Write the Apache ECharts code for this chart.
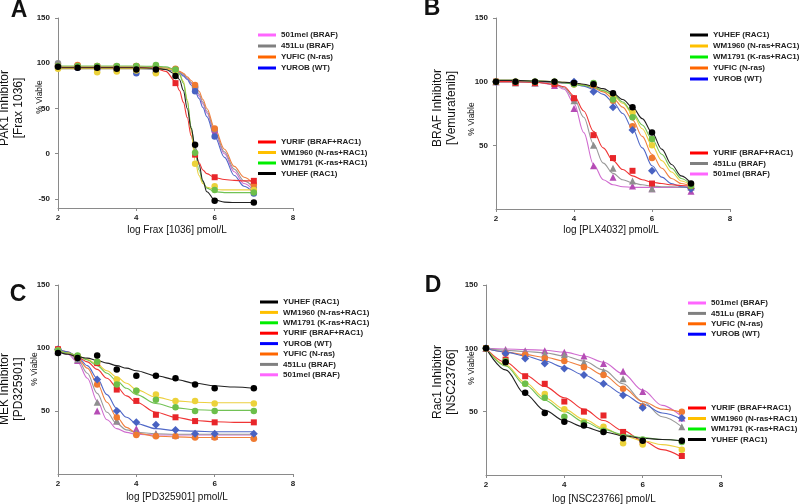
<!DOCTYPE html>
<html><head><meta charset="utf-8">
<script src="https://cdn.jsdelivr.net/npm/echarts@6/dist/echarts.min.js"></script>
<style>html,body{margin:0;padding:0;background:#fff}#c{width:800px;height:504px}</style>
</head><body><div id="c"></div>
<script>
// ---------- shared ----------
const doseX = [2, 2.5, 3, 3.5, 4, 4.5, 5, 5.5, 6, 7];
const xTickLabels = [2, 4, 6, 8];
const yTicksA = [-50, 0, 50, 100, 150];
const yTicksBCD = [50, 100, 150];
const cellLines = ['501mel (BRAF)', '451Lu (BRAF)', 'YUFIC (N-ras)', 'YUROB (WT)',
  'YURIF (BRAF+RAC1)', 'WM1960 (N-ras+RAC1)', 'WM1791 (K-ras+RAC1)', 'YUHEF (RAC1)'];

// ---------- Panel A : PAK1 inhibitor (Frax 1036) ----------
const A_pts_501mel = [97, 97, 96, 95, 95, 95, 93, 73, 25, -40];
const A_pts_451Lu  = [100, 96, 95, 94, 94, 94, 93, 74, 27, -38];
const A_pts_YUFIC  = [97, 98, 97, 96, 97, 97, 94, 76, 28, -34];
const A_pts_YUROB  = [95, 95, 93, 92, 89, 90, 92, 69, 19, -44];
const A_pts_YURIF  = [96, 96, 96, 96, 96, 95, 78, -1, -26, -30];
const A_pts_WM1960 = [94, 96, 90, 91, 92, 89, 92, -11, -36, -40];
const A_pts_WM1791 = [97, 97, 97, 97, 97, 98, 93, 1, -40, -43];
const A_pts_YUHEF  = [96, 95, 95, 94, 93, 93, 86, 10, -52, -54];
const A_fitX = [2, 3, 4, 4.5, 4.75, 5, 5.1, 5.2, 5.3, 5.4, 5.5, 5.6, 5.7, 5.8, 6, 6.25, 6.5, 6.75, 7];
const A_fit_501mel = [95, 95, 95, 94.5, 94, 92, 90, 87, 83, 78, 72, 64, 55, 45, 23, 0, -20, -33, -41];
const A_fit_451Lu  = [95, 95, 95, 94.5, 94, 92, 90, 88, 84, 79, 74, 66, 57, 47, 25, 2, -17, -30, -38];
const A_fit_YUFIC  = [96, 96, 96, 95.5, 95, 93, 91, 89, 85, 81, 76, 69, 60, 50, 28, 5, -14, -26, -34];
const A_fit_YUROB  = [94, 94, 94, 93.5, 93, 91, 89, 86, 82, 76, 69, 61, 51, 41, 19, -4, -24, -36, -44];
const A_fit_YURIF  = [95, 95, 95, 94, 91, 80, 70, 57, 40, 20, 2, -10, -18, -22, -26.5, -28.5, -29.5, -30, -30];
const A_fit_WM1960 = [94, 94, 94, 94, 93.5, 92, 88, 80, 60, 25, -8, -24, -33, -37, -39.5, -40, -40, -40, -40];
const A_fit_WM1791 = [97, 97, 97, 96.5, 96, 93, 88, 78, 58, 30, 2, -18, -31, -38, -42, -43, -43, -43, -43];
const A_fit_YUHEF  = [95, 95, 95, 94.5, 93, 88, 82, 70, 50, 28, 8, -12, -30, -42, -51, -53.5, -54, -54, -54];

// ---------- Panel B : BRAF inhibitor (Vemurafenib) ----------
const B_pts_501mel = [100, 100, 99, 97, 79, 34, 25, 18, 16, 14];
const B_pts_451Lu  = [100, 99, 99, 99, 85, 50, 32, 22, 16, 17];
const B_pts_YUFIC  = [100, 100, 99, 99, 98, 97, 85, 65, 40, 17];
const B_pts_YUROB  = [100, 100, 100, 100, 100, 92, 80, 62, 30, 16];
const B_pts_YURIF  = [100, 99, 99, 98, 87, 58, 40, 30, 20, 18];
const B_pts_WM1960 = [100, 100, 100, 100, 98, 98, 88, 76, 50, 19];
const B_pts_WM1791 = [100, 100, 100, 100, 98, 99, 86, 72, 55, 18];
const B_pts_YUHEF  = [100, 100, 100, 100, 99, 98, 91, 80, 60, 20];
const B_fitX = [2, 2.5, 3, 3.5, 3.75, 4, 4.25, 4.5, 4.75, 5, 5.25, 5.5, 5.75, 6, 6.25, 6.5, 6.75, 7];
const B_fit_501mel = [100, 100, 99.5, 97.5, 94, 83, 60, 35, 23, 19, 17.5, 17, 17, 17, 17, 17, 17, 17];
const B_fit_451Lu  = [100, 100, 99.5, 98, 95, 87, 72, 51, 36, 28, 23, 20.5, 19, 18, 17.5, 17.5, 17, 17];
const B_fit_YUFIC  = [100, 100, 100, 99.5, 99, 98.5, 97, 95, 92, 87, 80, 70, 57, 43, 32, 24, 20, 18];
const B_fit_YUROB  = [100, 100, 100, 99.5, 99, 98, 96.5, 94, 90, 84, 75, 63, 48, 34, 25, 20, 17.5, 16.5];
const B_fit_YURIF  = [100, 100, 99.5, 98, 96, 89, 77, 61, 48, 38, 31, 26, 23, 21, 20, 19, 18.5, 18];
const B_fit_WM1960 = [101, 101, 100.5, 100, 99.5, 99, 97.5, 96, 93, 89, 83, 75, 63, 50, 38, 29, 22, 18.5];
const B_fit_WM1791 = [101, 101, 100.5, 100, 99, 98, 97, 95.5, 93, 90, 84, 76, 66, 55, 43, 32, 24, 19];
const B_fit_YUHEF  = [101, 101, 100.5, 100, 99.5, 99, 98, 96.5, 94.5, 91, 86, 80, 71, 60, 47, 35, 26, 20];

// ---------- Panel C : MEK inhibitor (PD325901) ----------
const C_pts_501mel = [98, 90, 50, 42, 36, 32, 31, 31, 30, 30];
const C_pts_451Lu  = [97, 91, 57, 42, 33, 32, 31, 31, 31, 31];
const C_pts_YUFIC  = [99, 92, 71, 45, 31, 30, 30, 29, 29, 28];
const C_pts_YUROB  = [99, 92, 75, 50, 41, 39, 35, 32, 32, 32];
const C_pts_YURIF  = [99, 93, 88, 67, 58, 47, 45, 42, 41, 41];
const C_pts_WM1960 = [98, 93, 89, 75, 66, 63, 58, 58, 56, 56];
const C_pts_WM1791 = [98, 94, 89, 71, 66, 59, 53, 50, 50, 50];
const C_pts_YUHEF  = [96, 92, 94, 83, 78, 78, 76, 71, 68, 68];
const C_fitX = [2, 2.25, 2.5, 2.75, 3, 3.25, 3.5, 3.75, 4, 4.5, 5, 5.5, 6, 6.5, 7];
const C_fit_501mel = [98, 95, 89, 76, 58, 43, 36, 33, 31.5, 31, 31, 31, 31, 31, 31];
const C_fit_451Lu  = [98, 96, 91, 80, 64, 49, 40, 35, 33, 32, 31.5, 31.5, 31.5, 31.5, 31.5];
const C_fit_YUFIC  = [99, 97, 92, 84, 72, 57, 45, 37, 32.5, 30, 29.5, 29, 29, 29, 29];
const C_fit_YUROB  = [99, 97, 93, 86, 76, 63, 52, 45, 40, 36, 34.5, 34, 33.5, 33.5, 33.5];
const C_fit_YURIF  = [98, 96, 93, 89, 83, 76, 69, 62, 57, 49, 45, 42.5, 41.5, 41, 41];
const C_fit_WM1960 = [98, 96, 94, 91, 87, 82, 77, 72, 67, 61, 58, 57, 56.5, 56.5, 56.5];
const C_fit_WM1791 = [98, 96, 94, 90.5, 86, 80, 74, 68, 63, 56, 52.5, 51, 50.5, 50.5, 50.5];
const C_fit_YUHEF  = [97, 95, 93, 92, 90, 88, 86, 84, 82, 78, 75, 72, 70, 69, 68];

// ---------- Panel D : Rac1 inhibitor (NSC23766) ----------
const D_pts_501mel = [100, 99, 98, 98, 97, 94, 88, 82, 66, 45];
const D_pts_451Lu  = [100, 98, 97, 96, 95, 89, 82, 76, 55, 38];
const D_pts_YUFIC  = [100, 96, 95, 92, 90, 85, 79, 68, 54, 50];
const D_pts_YUROB  = [100, 96, 92, 88, 84, 79, 72, 63, 53, 45];
const D_pts_YURIF  = [100, 91, 78, 72, 58, 50, 47, 34, 26, 15];
const D_pts_WM1960 = [100, 89, 72, 64, 52, 42, 38, 25, 24, 20];
const D_pts_WM1791 = [100, 90, 72, 61, 46, 41, 35, 30, 28, 26];
const D_pts_YUHEF  = [100, 89, 65, 49, 42, 39, 34, 29, 27, 27];
const D_fitX = [2, 2.5, 3, 3.5, 4, 4.5, 5, 5.5, 6, 6.5, 7];
const D_fit_501mel = [100, 99.5, 99, 98.5, 97, 94, 89, 80, 67, 55, 46];
const D_fit_451Lu  = [100, 98.5, 97.5, 96.5, 94, 90, 83, 72, 58, 46, 38];
const D_fit_YUFIC  = [100, 97, 95, 93, 90, 86, 79, 69, 58, 52, 49.5];
const D_fit_YUROB  = [100, 97, 94, 90, 85, 79, 72, 64, 56, 49, 44];
const D_fit_YURIF  = [100, 89, 79, 70, 61, 52, 43, 35, 27, 20, 14];
const D_fit_WM1960 = [100, 87, 73, 61, 52, 44, 37, 31, 27, 24, 21];
const D_fit_WM1791 = [100, 86, 71, 59, 50, 42, 36, 32, 29.5, 28, 27];
const D_fit_YUHEF  = [100, 83, 64, 51, 43, 38, 34, 31, 29, 28, 27];

// legend groups (order as printed)
const A_legend1 = ['501mel (BRAF)', '451Lu (BRAF)', 'YUFIC (N-ras)', 'YUROB (WT)'];
const A_legend2 = ['YURIF (BRAF+RAC1)', 'WM1960 (N-ras+RAC1)', 'WM1791 (K-ras+RAC1)', 'YUHEF (RAC1)'];
const B_legend1 = ['YUHEF (RAC1)', 'WM1960 (N-ras+RAC1)', 'WM1791 (K-ras+RAC1)', 'YUFIC (N-ras)', 'YUROB (WT)'];
const B_legend2 = ['YURIF (BRAF+RAC1)', '451Lu (BRAF)', '501mel (BRAF)'];
const C_legend1 = ['YUHEF (RAC1)', 'WM1960 (N-ras+RAC1)', 'WM1791 (K-ras+RAC1)', 'YURIF (BRAF+RAC1)', 'YUROB (WT)', 'YUFIC (N-ras)', '451Lu (BRAF)', '501mel (BRAF)'];
const D_legend1 = ['501mel (BRAF)', '451Lu (BRAF)', 'YUFIC (N-ras)', 'YUROB (WT)'];
const D_legend2 = ['YURIF (BRAF+RAC1)', 'WM1960 (N-ras+RAC1)', 'WM1791 (K-ras+RAC1)', 'YUHEF (RAC1)'];

// ---------- styles ----------
const keyOf = {'501mel (BRAF)':'501mel','451Lu (BRAF)':'451Lu','YUFIC (N-ras)':'YUFIC','YUROB (WT)':'YUROB',
  'YURIF (BRAF+RAC1)':'YURIF','WM1960 (N-ras+RAC1)':'WM1960','WM1791 (K-ras+RAC1)':'WM1791','YUHEF (RAC1)':'YUHEF'};
const legendColor = {'501mel':'#ff66ff','451Lu':'#808080','YUFIC':'#ff6600','YUROB':'#0000ff',
  'YURIF':'#ff0000','WM1960':'#ffc000','WM1791':'#00ee00','YUHEF':'#000000'};
const markColor = {'501mel':'#b54cb5','451Lu':'#8f8f8f','YUFIC':'#f07a30','YUROB':'#4862c2',
  'YURIF':'#e8262a','WM1960':'#ecd23a','WM1791':'#6cbf4a','YUHEF':'#000000'};
const lineColor = {'501mel':'#d06cd0','451Lu':'#999999','YUFIC':'#f08040','YUROB':'#5068c8',
  'YURIF':'#f03535','WM1960':'#ecd040','WM1791':'#72c255','YUHEF':'#222222'};
const symbolOf = {'501mel':'triangle','451Lu':'triangle','YUFIC':'circle','YUROB':'diamond',
  'YURIF':'rect','WM1960':'circle','WM1791':'circle','YUHEF':'circle'};
const symbolOfA = {'501mel':'circle','451Lu':'circle','YUFIC':'circle','YUROB':'circle',
  'YURIF':'rect','WM1960':'circle','WM1791':'circle','YUHEF':'circle'};
const symbolSize = {triangle:7, circle:6.5, diamond:8, rect:6};

const FONT = 'Liberation Sans, Arial, sans-serif';
const panels = [
  {id:'A', fitX:A_fitX, grid:{left:58, top:18, width:235, height:190}, yMin:-60, yTicks:yTicksA, sym:symbolOfA},
  {id:'B', fitX:B_fitX, grid:{left:496, top:18, width:234, height:191}, yMin:0, yTicks:yTicksBCD, sym:symbolOf},
  {id:'C', fitX:C_fitX, grid:{left:58, top:285, width:235, height:189}, yMin:0, yTicks:yTicksBCD, sym:symbolOf},
  {id:'D', fitX:D_fitX, grid:{left:486, top:285, width:235, height:190}, yMin:0, yTicks:yTicksBCD, sym:symbolOf}
];
const store = {
  A:{pts:[A_pts_501mel,A_pts_451Lu,A_pts_YUFIC,A_pts_YUROB,A_pts_YURIF,A_pts_WM1960,A_pts_WM1791,A_pts_YUHEF],
     fit:[A_fit_501mel,A_fit_451Lu,A_fit_YUFIC,A_fit_YUROB,A_fit_YURIF,A_fit_WM1960,A_fit_WM1791,A_fit_YUHEF]},
  B:{pts:[B_pts_501mel,B_pts_451Lu,B_pts_YUFIC,B_pts_YUROB,B_pts_YURIF,B_pts_WM1960,B_pts_WM1791,B_pts_YUHEF],
     fit:[B_fit_501mel,B_fit_451Lu,B_fit_YUFIC,B_fit_YUROB,B_fit_YURIF,B_fit_WM1960,B_fit_WM1791,B_fit_YUHEF]},
  C:{pts:[C_pts_501mel,C_pts_451Lu,C_pts_YUFIC,C_pts_YUROB,C_pts_YURIF,C_pts_WM1960,C_pts_WM1791,C_pts_YUHEF],
     fit:[C_fit_501mel,C_fit_451Lu,C_fit_YUFIC,C_fit_YUROB,C_fit_YURIF,C_fit_WM1960,C_fit_WM1791,C_fit_YUHEF]},
  D:{pts:[D_pts_501mel,D_pts_451Lu,D_pts_YUFIC,D_pts_YUROB,D_pts_YURIF,D_pts_WM1960,D_pts_WM1791,D_pts_YUHEF],
     fit:[D_fit_501mel,D_fit_451Lu,D_fit_YUFIC,D_fit_YUROB,D_fit_YURIF,D_fit_WM1960,D_fit_WM1791,D_fit_YUHEF]}
};

const axisLine = {lineStyle:{color:'#8a8a8a', width:1}};
const labelStyle = {fontSize:8, fontWeight:'bold', color:'#222', fontFamily:FONT};
const grid = [], xAxis = [], yAxis = [], series = [];
panels.forEach((p, i) => {
  grid.push(Object.assign({containLabel:false}, p.grid));
  xAxis.push({type:'value', gridIndex:i, min:2, max:8, interval:2,
    axisLine:Object.assign({onZero:false}, axisLine), axisTick:{show:true, length:3, lineStyle:{color:'#8a8a8a'}},
    axisLabel:Object.assign({margin:6, customValues:xTickLabels}, labelStyle), splitLine:{show:false}});
  yAxis.push({type:'value', gridIndex:i, min:p.yMin, max:150,
    axisLine:Object.assign({show:true, onZero:false}, axisLine),
    axisTick:{show:true, length:3, customValues:p.yTicks, lineStyle:{color:'#8a8a8a'}},
    axisLabel:Object.assign({margin:8, customValues:p.yTicks}, labelStyle), splitLine:{show:false}});
  const d = store[p.id];
  cellLines.forEach((name, k) => {
    const key = keyOf[name];
    series.push({type:'line', name, xAxisIndex:i, yAxisIndex:i, showSymbol:false, smooth:0.35,
      smoothMonotone:'x', silent:true, z:2,
      lineStyle:{color:lineColor[key], width:1.1}, itemStyle:{color:lineColor[key]},
      data:p.fitX.map((x, j) => [x, d.fit[k][j]])});
  });
  cellLines.forEach((name, k) => {
    const key = keyOf[name];
    const sym = p.sym[key];
    series.push({type:'scatter', name, xAxisIndex:i, yAxisIndex:i, symbol:sym, symbolSize:symbolSize[sym],
      silent:true, z:3, itemStyle:{color:markColor[key], opacity:1},
      data:doseX.map((x, j) => [x, d.pts[k][j]])});
  });
});

function mkLegend(names, left, top, gap) {
  return {orient:'vertical', left, top, padding:0, itemGap:gap, itemWidth:18, itemHeight:3,
    icon:'rect', selectedMode:false,
    textStyle:{fontSize:8, fontWeight:'bold', color:'#222', fontFamily:FONT, lineHeight:10},
    data:names.map(n => ({name:n, icon:'rect', itemStyle:{color:legendColor[keyOf[n]], borderWidth:0}}))};
}
const legend = [
  mkLegend(A_legend1, 258, 30, 1), mkLegend(A_legend2, 258, 137, 0.5),
  mkLegend(B_legend1, 690, 30, 1), mkLegend(B_legend2, 690, 148, 0.5),
  mkLegend(C_legend1, 260, 297, 0.4),
  mkLegend(D_legend1, 688, 298, 0.4), mkLegend(D_legend2, 688, 403, 0.5)
];

function txt(text, x, y, size, weight, rot, lh) {
  return {type:'text', x, y, rotation:rot || 0, silent:true,
    style:{text, fill:'#111', font:(weight||'normal') + ' ' + size + 'px ' + FONT,
      textAlign:'center', textVerticalAlign:'middle', lineHeight:lh || size}};
}
const R = Math.PI / 2;
const graphic = [
  txt('A', 19, 11, 23, 'bold'), txt('B', 432, 9, 23, 'bold'),
  txt('C', 18, 295, 23, 'bold'), txt('D', 433, 286, 23, 'bold'),
  txt('PAK1 Inhibitor\n[Frax 1036]', 12, 108, 12, 'normal', R, 14),
  txt('% Viable', 40, 97, 8.5, 'normal', R),
  txt('BRAF Inhibitor\n[Vemurafenib]', 444.5, 108, 12, 'normal', R, 14),
  txt('% Viable', 471.5, 119, 8.5, 'normal', R),
  txt('MEK Inhibitor\n[PD325901]', 12, 389, 12, 'normal', R, 14),
  txt('% Viable', 35, 369, 8.5, 'normal', R),
  txt('Rac1 Inhibitor\n[NSC23766]', 444.5, 382, 12, 'normal', R, 14),
  txt('% Viable', 471.5, 368, 8.5, 'normal', R),
  txt('log Frax [1036] pmol/L', 177, 230, 10),
  txt('log [PLX4032] pmol/L', 611, 230, 10),
  txt('log [PD325901] pmol/L', 177, 497, 10),
  txt('log [NSC23766] pmol/L', 604, 499, 10)
];

const chart = echarts.init(document.getElementById('c'), null, {renderer:'canvas'});
chart.setOption({animation:false, backgroundColor:'#ffffff', grid, xAxis, yAxis, series, legend, graphic});
</script></body></html>
